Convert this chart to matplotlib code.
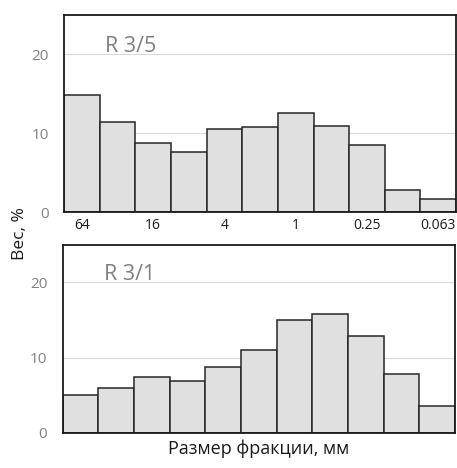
import matplotlib
matplotlib.use("Agg")
import matplotlib.pyplot as plt
import numpy as np

plt.rcParams['font.family'] = ['Open Sans', 'DejaVu Sans']

# fraction sizes, mm (labels shown on every other bar)
size_labels = ['64', '', '16', '', '4', '', '1', '', '0.25', '', '0.063']
# weight, %
r35 = [14.8, 11.4, 8.7, 7.65, 10.5, 10.75, 12.5, 10.95, 8.45, 2.8, 1.7]
r31 = [5.1, 5.95, 7.45, 6.9, 8.7, 11.05, 14.95, 15.8, 12.9, 7.8, 3.6]

fig = plt.figure(figsize=(4.57, 4.68), dpi=100)
ax1 = fig.add_axes([0.140, 0.547, 0.858, 0.421])
ax2 = fig.add_axes([0.137, 0.075, 0.859, 0.402])

gray = '#808080'
x = np.arange(len(r35))

for ax, vals, name in [(ax1, r35, 'R 3/5'), (ax2, r31, 'R 3/1')]:
    ax.bar(x, vals, width=1.0, color='#e0e0e0', edgecolor='#262626', linewidth=1.1, zorder=2)
    ax.set_xlim(-0.5, len(vals) - 0.5)
    ax.set_ylim(0, 25)
    ax.set_yticks([0, 10, 20])
    ax.grid(axis='y', color='#d9d9d9', linewidth=0.8, zorder=0)
    ax.set_axisbelow(True)
    ax.tick_params(axis='y', length=0, pad=11, labelsize=11, labelcolor=gray)
    for s in ax.spines.values():
        s.set_color('#1a1a1a')
        s.set_linewidth(1.3)
    ax.text(0.105, 0.84, name, transform=ax.transAxes, fontsize=15.5, color=gray,
            va='center', ha='left')

ax1.set_xticks(x)
ax1.set_xticklabels(size_labels)
ax1.tick_params(axis='x', length=0, pad=4, labelsize=10, labelcolor='#1a1a1a')
ax2.set_xticks([])

fig.text(0.044, 0.5, 'Вес, %', rotation=90, va='center', ha='center', fontsize=12.5, color='#1a1a1a')
ax2.set_xlabel('Размер фракции, мм', fontsize=13, color='#1a1a1a', labelpad=5)

fig.savefig('out.png', dpi=100)
